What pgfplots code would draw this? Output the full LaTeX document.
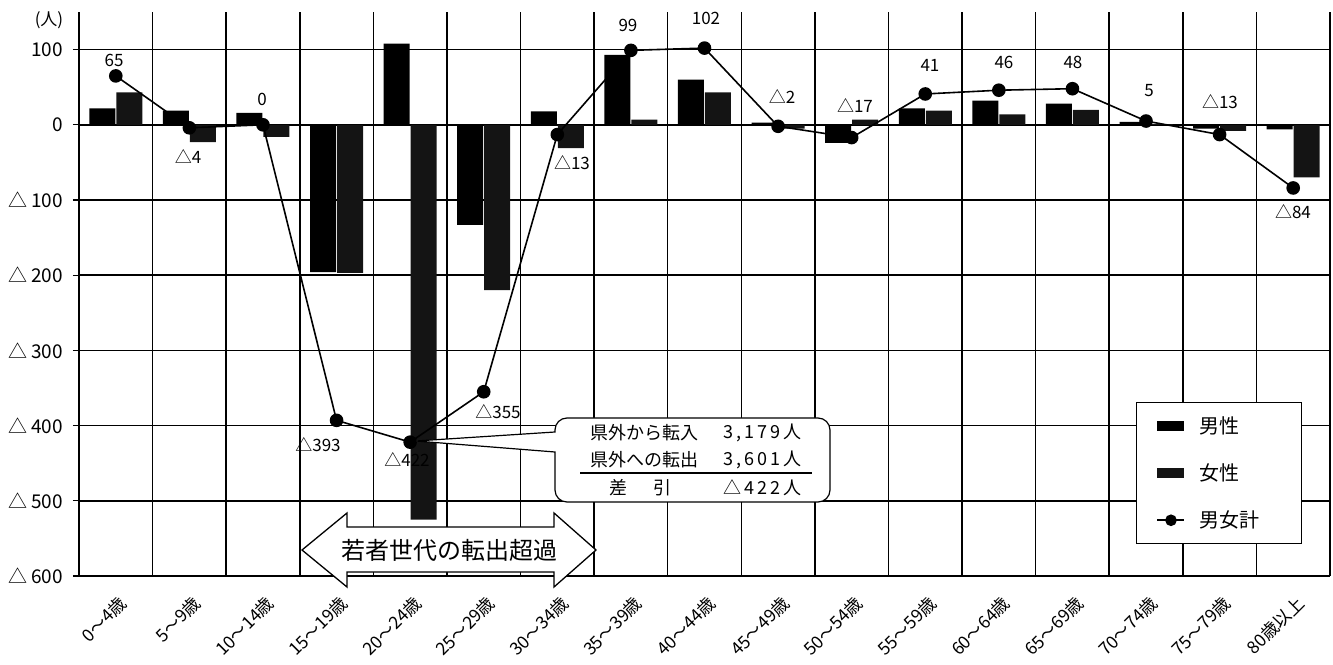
\documentclass[border=0pt]{standalone}
\usepackage{fontspec}
\setmainfont{Noto Sans CJK JP}
\usepackage{pgfplots}
\pgfplotsset{compat=1.18}
\newcommand\lbl{\fontsize{17}{20}\selectfont}
\begin{document}
\begin{tikzpicture}
\path[use as bounding box] (-79pt,-88pt) rectangle (1254pt,576pt);
\begin{axis}[
  at={(0pt,0pt)}, anchor=south west,
  scale only axis, width=1251pt, height=564pt,
  xmin=-0.5, xmax=16.5, ymin=-600, ymax=150,
  axis line style={draw=none},
  clip=false,
  /pgf/number format/assume math mode=true,
  xtick={0,...,16},
  xticklabels={0〜4歳,5〜9歳,10〜14歳,15〜19歳,20〜24歳,25〜29歳,30〜34歳,35〜39歳,40〜44歳,45〜49歳,50〜54歳,55〜59歳,60〜64歳,65〜69歳,70〜74歳,75〜79歳,80歳以上},
  minor xtick={-0.5,0.5,...,16.5},
  xminorgrids,
  minor grid style={black, line width=1.5pt},
  ytick={-600,-500,...,100},
  yticklabels={△\,600,△\,500,△\,400,△\,300,△\,200,△\,100,0,100},
  ymajorgrids,
  major grid style={black, line width=1.5pt},
  tick align=outside, major tick length=6pt, minor tick length=0pt,
  ytick pos=left, xtick pos=left,
  xtick style={draw=none},
  ytick style={black, line width=1.2pt},
  yticklabel style={font=\fontsize{19}{22}\selectfont, inner sep=0pt, xshift=-10pt},
  xticklabel style={font=\fontsize{17.5}{19}\selectfont, inner sep=0pt, xshift=2pt, yshift=-12pt, rotate=45, anchor=north east},
  legend style={at={(axis description cs:0.845,0.0567)}, anchor=south west,
    draw=black, line width=1.2pt, fill=white, font=\fontsize{20}{24}\selectfont,
    inner xsep=20pt, inner ysep=12pt, row sep=25pt, column sep=12pt, cells={anchor=west}},
]
\addplot[ybar, bar width=26pt, bar shift=-13.5pt, fill=black, draw=none,
  legend image code/.code={\fill[black] (0pt,-5pt) rectangle (27pt,5pt);}]
  coordinates {(0,22) (1,19) (2,16) (3,-196) (4,108) (5,-133) (6,18) (7,93) (8,60) (9,3) (10,-24) (11,22) (12,32) (13,28) (14,4) (15,-5) (16,-6)};
\addlegendentry{\makebox[80pt][l]{男性}}
\addplot[ybar, bar width=26pt, bar shift=13.5pt, fill=black!92, draw=none,
  legend image code/.code={\fill[black!92] (0pt,-5pt) rectangle (27pt,5pt);}]
  coordinates {(0,43) (1,-23) (2,-16) (3,-197) (4,-525) (5,-220) (6,-31) (7,7) (8,43) (9,-5) (10,7) (11,19) (12,14) (13,20) (14,1) (15,-8) (16,-70)};
\addlegendentry{\makebox[80pt][l]{女性}}
\addplot[black, line width=1.6pt, mark=*, mark size=6pt, mark options={fill=black},
  legend image code/.code={\draw[black,line width=1.6pt] (0pt,0pt) -- (27pt,0pt); \fill[black] (13.5pt,0pt) circle (5pt);}]
  coordinates {(0,65) (1,-4) (2,0) (3,-393) (4,-422) (5,-355) (6,-13) (7,99) (8,102) (9,-2) (10,-17) (11,41) (12,46) (13,48) (14,5) (15,-13) (16,-84)};
\addlegendentry{\makebox[80pt][l]{男女計}}
\node[font=\lbl] at (axis cs:-0.024,86.2) {65};
\node[font=\lbl] at (axis cs:0.981,-41.5) {△4};
\node[font=\lbl] at (axis cs:1.987,34.3) {0};
\node[font=\lbl] at (axis cs:2.748,-425.8) {△393};
\node[font=\lbl] at (axis cs:3.957,-445.7) {△422};
\node[font=\lbl] at (axis cs:5.194,-381.9) {△355};
\node[font=\lbl] at (axis cs:6.199,-50.8) {△13};
\node[font=\lbl] at (axis cs:6.96,132.7) {99};
\node[font=\lbl] at (axis cs:8.02,142) {102};
\node[font=\lbl] at (axis cs:9.053,37) {△2};
\node[font=\lbl] at (axis cs:10.045,26.3) {△17};
\node[font=\lbl] at (axis cs:11.064,79.5) {41};
\node[font=\lbl] at (axis cs:12.07,83.5) {46};
\node[font=\lbl] at (axis cs:13.007,83.5) {48};
\node[font=\lbl] at (axis cs:14.04,45) {5};
\node[font=\lbl] at (axis cs:15.005,30.3) {△13};
\node[font=\lbl] at (axis cs:15.997,-116) {△84};
\end{axis}
% unit label
\node[font=\lbl] at (-30pt,556pt) {(人)};
% callout
\draw[line width=1.2pt, fill=white] (337pt,135pt) -- (476pt,144pt) [rounded corners=12pt] -- (476pt,158pt) -- (751pt,158pt) -- (751pt,74pt) -- (476pt,74pt) [sharp corners] -- (476pt,124pt) -- cycle;
\begin{scope}[font=\fontsize{18}{20}\selectfont]
\node[anchor=west] at (508pt,143pt) {県外から転入};
\node[anchor=east] at (726pt,143pt) {3\,,\,1\,7\,9\,人};
\node[anchor=west] at (508pt,116pt) {県外への転出};
\node[anchor=east] at (726pt,116pt) {3\,,\,6\,0\,1\,人};
\draw[line width=1.2pt] (501pt,103pt) -- (733pt,103pt);
\node at (539pt,88pt) {差};
\node at (583pt,88pt) {引};
\node[anchor=east] at (726pt,88pt) {△\,4\,2\,2\,人};
\end{scope}
% double arrow
\draw[line width=1.3pt, fill=white] (223pt,26pt) -- (268pt,63pt) -- (268pt,49pt) -- (475pt,49pt) -- (475pt,63pt) -- (517pt,26pt) -- (475pt,-11pt) -- (475pt,4pt) -- (268pt,4pt) -- (268pt,-11pt) -- cycle;
\node[font=\fontsize{24}{26}\selectfont] at (370pt,26pt) {若者世代の転出超過};
\end{tikzpicture}
\end{document}
